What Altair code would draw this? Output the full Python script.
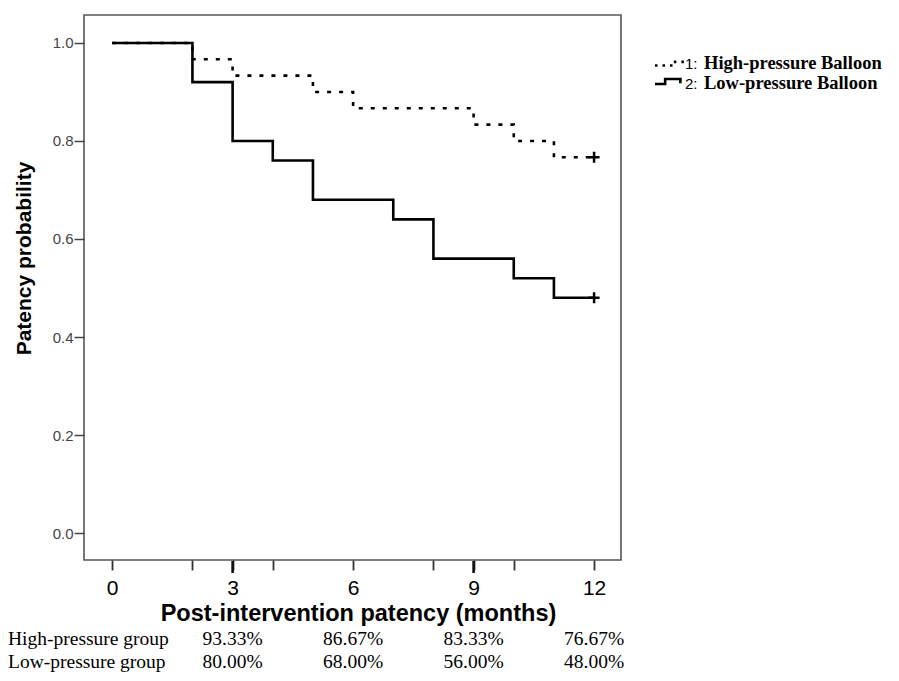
import altair as alt
import pandas as pd

# Kaplan-Meier step data
months_high = [0, 2, 3, 5, 6, 9, 10, 11, 12]
surv_high = [1.0, 0.9667, 0.9333, 0.90, 0.8667, 0.8333, 0.80, 0.7667, 0.7667]
months_low = [0, 2, 3, 4, 5, 7, 8, 10, 11, 12]
surv_low = [1.0, 0.92, 0.80, 0.76, 0.68, 0.64, 0.56, 0.52, 0.48, 0.48]

# censor marks at end of follow-up
censor_month = [12, 12]
censor_surv = [0.7667, 0.48]

# table under the chart
table_months = [3, 6, 9, 12]
high_pct = ["93.33%", "86.67%", "83.33%", "76.67%"]
low_pct = ["80.00%", "68.00%", "56.00%", "48.00%"]
row_labels = ["High-pressure group", "Low-pressure group"]

x_ticks = [0, 2, 3, 4, 6, 8, 9, 10, 12]
bold_ticks = [3, 9]
y_ticks = [0.0, 0.2, 0.4, 0.6, 0.8, 1.0]

df_high = pd.DataFrame({"month": months_high, "surv": surv_high})
df_low = pd.DataFrame({"month": months_low, "surv": surv_low})
df_cens = pd.DataFrame({"month": censor_month, "surv": censor_surv})
df_tab_high = pd.DataFrame({"month": table_months, "txt": high_pct})
df_tab_low = pd.DataFrame({"month": table_months, "txt": low_pct})
df_bold = pd.DataFrame({"month": bold_ticks})

W, H = 537, 545
xscale = alt.Scale(domain=[-0.7, 12.67], nice=False, zero=False)
yscale = alt.Scale(domain=[-0.055, 1.057], nice=False, zero=False)

xaxis = alt.Axis(
    values=x_ticks,
    labelExpr="datum.value % 3 == 0 ? datum.label : ''",
    title="Post-intervention patency (months)",
    titleFont="Liberation Sans", titleFontSize=23.5, titleFontWeight="bold", titleColor="black",
    titleBaseline="alphabetic", titleY=60, titleX=274, titleAlign="center",
    labelFont="Liberation Sans", labelFontSize=21, labelColor="black", labelPadding=7,
    tickSize=10, tickColor="#333", tickWidth=1.8, domain=False, grid=False,
)
yaxis = alt.Axis(
    values=y_ticks, format=".1f",
    title="Patency probability",
    titleFont="Liberation Sans", titleFontSize=21, titleFontWeight="bold", titleColor="black",
    titlePadding=18, titleY=243,
    labelFont="Liberation Sans", labelFontSize=15, labelColor="#444", labelPadding=1,
    tickSize=10, tickColor="#444", tickWidth=1.5, domain=False, grid=False,
)

X = alt.X("month:Q", scale=xscale, axis=xaxis)
Y = alt.Y("surv:Q", scale=yscale, axis=yaxis)

high_line = alt.Chart(df_high).mark_line(
    interpolate="step-after", color="black", strokeWidth=2.6, strokeDash=[4, 8]
).encode(x=X, y=Y)

low_line = alt.Chart(df_low).mark_line(
    interpolate="step-after", color="black", strokeWidth=2.6
).encode(x=X, y=Y)

cens = alt.Chart(df_cens).mark_point(
    shape="M-1,0L1,0M0,-1L0,1", size=121, filled=False, color="black", strokeWidth=2.5, opacity=1
).encode(x=X, y=Y)

bold_tick_marks = alt.Chart(df_bold).mark_rule(color="#111", strokeWidth=2.6).encode(
    x=alt.X("month:Q", scale=xscale), y=alt.value(H + 1), y2=alt.value(H + 13)
)

tab_font = "Liberation Serif"
tab_high = alt.Chart(df_tab_high).mark_text(
    font=tab_font, fontSize=19.5, color="black", align="center", baseline="alphabetic"
).encode(x=alt.X("month:Q", scale=xscale), y=alt.value(630), text="txt:N")
tab_low = alt.Chart(df_tab_low).mark_text(
    font=tab_font, fontSize=19.5, color="black", align="center", baseline="alphabetic"
).encode(x=alt.X("month:Q", scale=xscale), y=alt.value(653), text="txt:N")

df_rows = pd.DataFrame({"lab": row_labels, "yy": [630, 653]})
rows = alt.Chart(df_rows).mark_text(
    font=tab_font, fontSize=19.5, color="black", align="left", baseline="alphabetic"
).encode(x=alt.value(-76), y=alt.Y("yy:Q", scale=None), text="lab:N")

# manual legend
leg_num = pd.DataFrame({"t": ["1:", "2:"], "yy": [54, 73.5]})
leg_lab = pd.DataFrame({"t": ["High-pressure Balloon", "Low-pressure Balloon"], "yy": [54, 73.5]})
legend_num = alt.Chart(leg_num).mark_text(
    font="Liberation Sans", fontSize=15, color="black", align="left", baseline="alphabetic"
).encode(x=alt.value(601), y=alt.Y("yy:Q", scale=None), text="t:N")
legend_lab = alt.Chart(leg_lab).mark_text(
    font="Liberation Serif", fontSize=18.5, fontWeight="bold", color="black", align="left", baseline="alphabetic"
).encode(x=alt.value(620), y=alt.Y("yy:Q", scale=None), text="t:N")

sym_dot = alt.Chart(pd.DataFrame({"k": [0]})).mark_point(
    shape="M-1,0.1L0.3,0.1L0.3,-0.15L1,-0.15", size=841, filled=False, color="black",
    strokeWidth=2.6, strokeDash=[2.5, 5], opacity=1
).encode(x=alt.value(585.5), y=alt.value(49))
sym_step = alt.Chart(pd.DataFrame({"k": [0]})).mark_point(
    shape="M-1,0.17L-0.3,0.17L-0.3,-0.17L0.75,-0.17L0.75,0.12", size=841, filled=False, color="black",
    strokeWidth=2.6, opacity=1
).encode(x=alt.value(585.5), y=alt.value(66.5))

chart = alt.layer(
    high_line, low_line, cens, bold_tick_marks, tab_high, tab_low, rows,
    legend_num, legend_lab, sym_dot, sym_step
).properties(
    width=W, height=H,
    autosize=alt.AutoSizeParams(type="none"),
    padding={"left": 76, "top": 7, "right": 270, "bottom": 113},
    background="white",
).configure_view(
    stroke="#555", strokeWidth=1.6
)

chart.save("out.html", embed_options={"renderer": "svg", "actions": False})
